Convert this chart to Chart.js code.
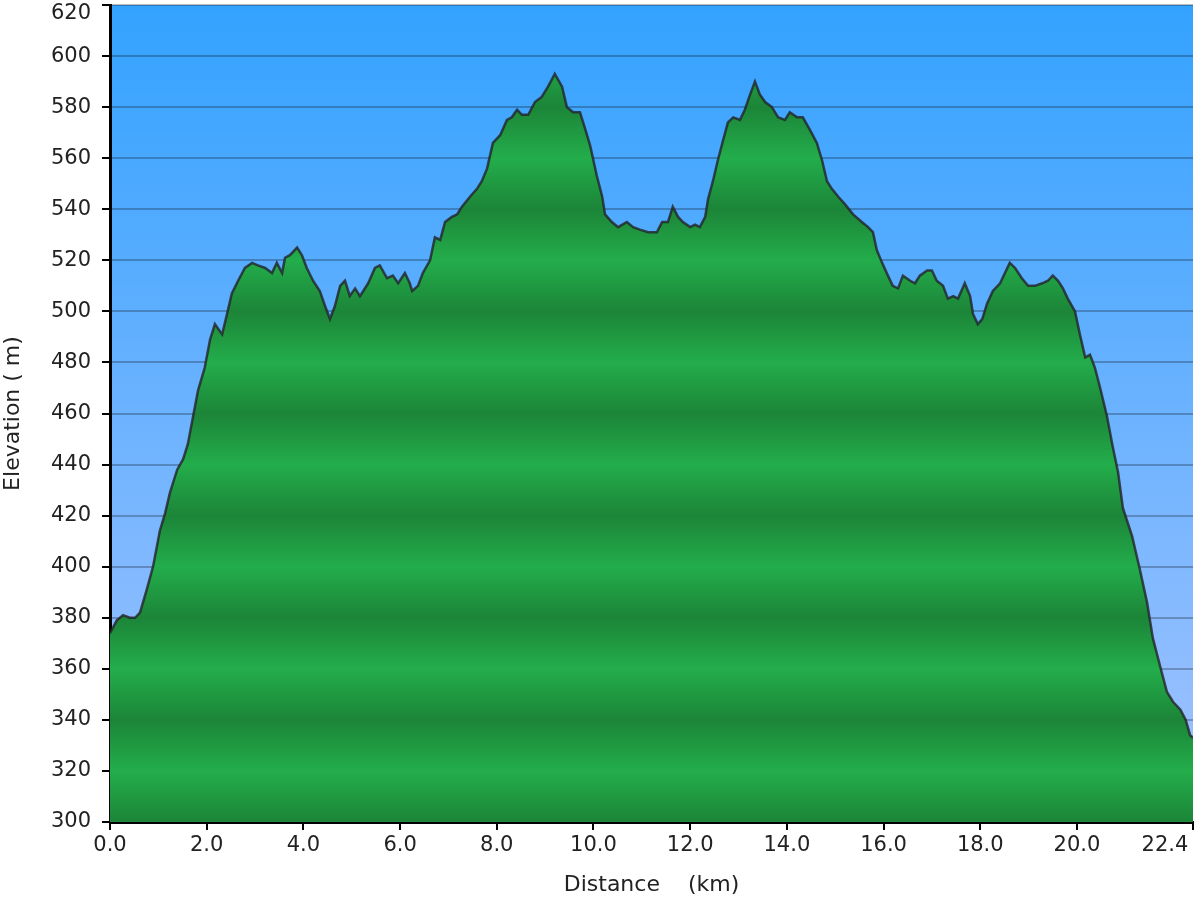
<!DOCTYPE html>
<html>
<head>
<meta charset="utf-8">
<title>Elevation profile</title>
<script src="https://cdn.jsdelivr.net/npm/chart.js@4.4.1/dist/chart.umd.min.js"></script>
<style>
  body { margin: 0; background: #fff; }
  #wrap { width: 1200px; height: 900px; position: relative; }
</style>
</head>
<body>
<div id="wrap"><canvas id="profileChart"></canvas></div>
<script>
// Track data: distance (km) and elevation (m)
const distanceKm = [
  0.00, 0.14, 0.27, 0.41, 0.52, 0.62, 0.76, 0.89, 1.03, 1.14,
  1.24, 1.39, 1.51, 1.61, 1.72, 1.82, 1.96, 2.07, 2.17, 2.32,
  2.42, 2.52, 2.65, 2.79, 2.94, 3.06, 3.21, 3.35, 3.45, 3.56,
  3.62, 3.72, 3.87, 3.97, 4.07, 4.20, 4.34, 4.45, 4.55, 4.65,
  4.76, 4.86, 4.96, 5.07, 5.17, 5.34, 5.48, 5.58, 5.73, 5.85,
  5.96, 6.10, 6.20, 6.25, 6.37, 6.47, 6.62, 6.72, 6.83, 6.93,
  7.07, 7.18, 7.28, 7.45, 7.59, 7.69, 7.80, 7.92, 8.07, 8.21,
  8.31, 8.42, 8.52, 8.65, 8.79, 8.93, 9.06, 9.20, 9.35, 9.45,
  9.58, 9.72, 9.82, 9.93, 10.07, 10.18, 10.24, 10.38, 10.51, 10.69,
  10.82, 10.96, 11.13, 11.31, 11.42, 11.54, 11.64, 11.75, 11.85, 12.00,
  12.10, 12.20, 12.31, 12.37, 12.47, 12.57, 12.68, 12.78, 12.89, 13.03,
  13.13, 13.24, 13.34, 13.44, 13.55, 13.69, 13.82, 13.96, 14.06, 14.21,
  14.33, 14.48, 14.62, 14.73, 14.83, 14.93, 15.06, 15.20, 15.37, 15.55,
  15.68, 15.78, 15.86, 15.97, 16.09, 16.19, 16.30, 16.40, 16.55, 16.65,
  16.75, 16.90, 17.00, 17.10, 17.23, 17.33, 17.44, 17.54, 17.68, 17.79,
  17.85, 17.95, 18.04, 18.14, 18.26, 18.41, 18.51, 18.61, 18.72, 18.86,
  18.99, 19.13, 19.28, 19.40, 19.50, 19.61, 19.71, 19.81, 19.96, 20.06,
  20.17, 20.27, 20.37, 20.48, 20.62, 20.74, 20.85, 20.95, 21.14, 21.30,
  21.45, 21.57, 21.72, 21.86, 21.99, 22.14, 22.25, 22.34, 22.40
];
const elevationM = [
  374, 379, 381, 380, 380, 382, 391, 400, 414, 421,
  429, 438, 442, 448, 459, 469, 478, 489, 495, 491,
  499, 507, 512, 517, 519, 518, 517, 515, 519, 515,
  521, 522, 525, 522, 517, 512, 508, 502, 497, 502,
  510, 512, 506, 509, 506, 511, 517, 518, 513, 514,
  511, 515, 511, 508, 510, 515, 520, 529, 528, 535,
  537, 538, 541, 545, 548, 551, 556, 566, 569, 575,
  576, 579, 577, 577, 582, 584, 588, 593, 588, 580,
  578, 578, 572, 565, 553, 545, 538, 535, 533, 535,
  533, 532, 531, 531, 535, 535, 541, 537, 535, 533,
  534, 533, 537, 544, 551, 559, 567, 574, 576, 575,
  579, 585, 590, 585, 582, 580, 576, 575, 578, 576,
  576, 571, 566, 559, 551, 548, 545, 542, 538, 535,
  533, 531, 524, 519, 514, 510, 509, 514, 512, 511,
  514, 516, 516, 512, 510, 505, 506, 505, 511, 506,
  499, 495, 497, 503, 508, 511, 515, 519, 517, 513,
  510, 510, 511, 512, 514, 512, 509, 505, 500, 491,
  482, 483, 478, 470, 459, 447, 437, 423, 412, 399,
  386, 372, 361, 351, 347, 344, 340, 334, 333
];
const xTickValues = [0, 2, 4, 6, 8, 10, 12, 14, 16, 18, 20, 22.4];
const yMin = 300;
const yMax = 620;
const yStep = 20;

const FONT = "'DejaVu Sans', Verdana, sans-serif";

// sky gradient behind the plot
const skyBackground = {
  id: 'skyBackground',
  beforeDraw(chart) {
    const { ctx, chartArea } = chart;
    if (!chartArea) return;
    const g = ctx.createLinearGradient(0, chartArea.top, 0, chartArea.bottom);
    g.addColorStop(0, '#33a2ff');
    g.addColorStop(1, '#a4c3ff');
    ctx.save();
    ctx.fillStyle = g;
    ctx.fillRect(chartArea.left, chartArea.top, chartArea.right - chartArea.left, chartArea.bottom - chartArea.top);
    ctx.restore();

    // keep the end labels inside the canvas like the original
    const yItems = chart.scales.y.getLabelItems(chartArea);
    if (yItems.length) yItems[yItems.length - 1].options.translation[1] += 9;
    const xItems = chart.scales.x.getLabelItems(chartArea);
    if (xItems.length) xItems[xItems.length - 1].options.translation[0] -= 28;
  }
};

// banded green fill, dark every 40 m, light in between
function bandedFill(context) {
  const chart = context.chart;
  const { ctx, chartArea, scales } = chart;
  if (!chartArea) return null;
  const yBottom = scales.y.getPixelForValue(yMin);
  const yTop = scales.y.getPixelForValue(yMax);
  const g = ctx.createLinearGradient(0, yBottom, 0, yTop);
  const n = (yMax - yMin) / yStep;
  for (let i = 0; i <= n; i++) {
    g.addColorStop(i / n, i % 2 === 0 ? '#1c8538' : '#23ad4b');
  }
  return g;
}

const ctx = document.getElementById('profileChart').getContext('2d');
const profileChart = new Chart(ctx, {
  type: 'line',
  data: {
    datasets: [{
      label: 'Elevation',
      data: distanceKm.map((d, i) => ({ x: d, y: elevationM[i] })),
      borderColor: 'rgba(35, 35, 40, 0.8)',
      borderWidth: 2.5,
      backgroundColor: bandedFill,
      fill: 'start',
      pointRadius: 0,
      tension: 0
    }]
  },
  options: {
    responsive: true,
    maintainAspectRatio: false,
    animation: false,
    layout: { padding: { top: 5, right: 7, left: 0, bottom: 0 } },
    plugins: {
      legend: { display: false },
      tooltip: { enabled: false }
    },
    scales: {
      x: {
        type: 'linear',
        min: 0,
        max: 22.4,
        afterBuildTicks: (scale) => {
          scale.ticks = xTickValues.map(v => ({ value: v }));
        },
        afterFit: (scale) => {
          scale.height = 78;
          scale.paddingLeft = 0;
          scale.paddingRight = 0;
        },
        ticks: {
          autoSkip: false,
          maxRotation: 0,
          padding: 3,
          color: '#222',
          font: { family: FONT, size: 21 },
          callback: (v) => Number(v).toFixed(1)
        },
        grid: {
          drawOnChartArea: false,
          tickColor: '#000',
          tickLength: 8,
          lineWidth: 2
        },
        border: { color: '#000', width: 3 },
        title: {
          display: true,
          text: 'Distance    (km)',
          color: '#222',
          font: { family: FONT, size: 22 },
          padding: { top: 0, bottom: 2 }
        }
      },
      y: {
        min: yMin,
        max: yMax,
        z: 1,
        afterFit: (scale) => {
          scale.width = 110;
          scale.paddingTop = 0;
          scale.paddingBottom = 0;
        },
        ticks: {
          stepSize: yStep,
          padding: 11,
          color: '#222',
          font: { family: FONT, size: 21 }
        },
        grid: {
          color: 'rgba(0, 0, 0, 0.25)',
          tickColor: '#000',
          tickLength: 8,
          lineWidth: 2
        },
        border: { color: '#000', width: 3 },
        title: {
          display: true,
          text: 'Elevation ( m)',
          color: '#222',
          font: { family: FONT, size: 22 },
          padding: { top: 0, bottom: 0 }
        }
      }
    }
  },
  plugins: [skyBackground]
});
</script>
</body>
</html>
